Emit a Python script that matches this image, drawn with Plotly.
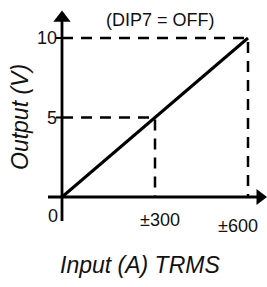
import plotly.graph_objects as go

# ---- data ----
input_a = [0, 600]          # Input (A) TRMS
output_v = [0, 10]          # Output (V)
x_ticks = [300, 600]
x_tick_labels = ["±300", "±600"]
y_ticks = [5, 10]
y_tick_labels = ["5", "10"]

W, H = 267, 287
# pixel mapping (plot area = full canvas)
X0_PX, X600_PX = 62, 248
Y0_PX, Y10_PX = 197, 38
sx = (X600_PX - X0_PX) / 600.0
sy = (Y0_PX - Y10_PX) / 10.0
x_range = [-X0_PX / sx, (W - X0_PX) / sx]
y_range = [-(H - Y0_PX) / sy, Y0_PX / sy]

def px_x(p):
    return (p - X0_PX) / sx

def px_y(p):
    return (Y0_PX - p) / sy

FONT = "Liberation Sans, Arial, sans-serif"
TXT = "#111111"

fig = go.Figure()

# dashed guide lines
for xv, yv in zip(x_ticks, y_ticks):
    fig.add_trace(go.Scatter(
        x=[0, xv, xv], y=[yv, yv, 0], mode="lines",
        line=dict(color="black", width=2.5, dash="11px,8px"),
        hoverinfo="skip", showlegend=False))

# axes lines
fig.add_trace(go.Scatter(x=[px_x(48), px_x(259)], y=[0, 0], mode="lines",
                         line=dict(color="black", width=2.8), hoverinfo="skip", showlegend=False))
fig.add_trace(go.Scatter(x=[0, 0], y=[px_y(221), px_y(20)], mode="lines",
                         line=dict(color="black", width=2.8), hoverinfo="skip", showlegend=False))
# arrowheads
fig.add_trace(go.Scatter(x=[px_x(260)], y=[0], mode="markers",
                         marker=dict(symbol="triangle-right", size=14, color="black"),
                         hoverinfo="skip", showlegend=False))
fig.add_trace(go.Scatter(x=[0], y=[px_y(18)], mode="markers",
                         marker=dict(symbol="triangle-up", size=15, color="black"),
                         hoverinfo="skip", showlegend=False))

# y tick marks
for yv in y_ticks:
    fig.add_trace(go.Scatter(x=[px_x(56), 0], y=[yv, yv], mode="lines",
                             line=dict(color="black", width=2), hoverinfo="skip", showlegend=False))

# main line
fig.add_trace(go.Scatter(x=input_a, y=output_v, mode="lines",
                         line=dict(color="black", width=3), hoverinfo="skip", showlegend=False))

ann = []
for yv, lab in zip(y_ticks, y_tick_labels):
    ann.append(dict(x=0, y=yv, text=lab, showarrow=False, xanchor="right", yanchor="middle",
                    xshift=-3, font=dict(family=FONT, size=18, color=TXT)))
ann.append(dict(x=0, y=0, text="0", showarrow=False, xanchor="right", yanchor="middle",
                xshift=-2, yshift=-19, font=dict(family=FONT, size=18, color=TXT)))
xshifts = [5, -10]
yshifts = [-23, -29]
for xv, lab, xs, ys in zip(x_ticks, x_tick_labels, xshifts, yshifts):
    ann.append(dict(x=xv, y=0, text=lab, showarrow=False, xanchor="center", yanchor="middle",
                    xshift=xs, yshift=ys, font=dict(family=FONT, size=18, color=TXT)))
ann.append(dict(x=px_x(160), y=px_y(20), text="(DIP7 = OFF)", showarrow=False,
                xanchor="center", yanchor="middle", font=dict(family=FONT, size=18, color=TXT)))
ann.append(dict(x=px_x(20), y=px_y(117), text="<i>Output (V)</i>", showarrow=False, textangle=-90,
                xanchor="center", yanchor="middle", font=dict(family=FONT, size=23, color=TXT)))
ann.append(dict(x=px_x(140), y=px_y(265), text="<i>Input (A) TRMS</i>", showarrow=False,
                xanchor="center", yanchor="middle", font=dict(family=FONT, size=23, color=TXT)))

fig.update_layout(
    width=W, height=H, margin=dict(l=0, r=0, t=0, b=0),
    paper_bgcolor="white", plot_bgcolor="white",
    xaxis=dict(range=x_range, visible=False, fixedrange=True),
    yaxis=dict(range=y_range, visible=False, fixedrange=True),
    annotations=ann, showlegend=False,
)
fig.write_html("out.html", config={"displayModeBar": False},
               post_script="document.body.style.margin='0';document.body.style.overflow='hidden';")
